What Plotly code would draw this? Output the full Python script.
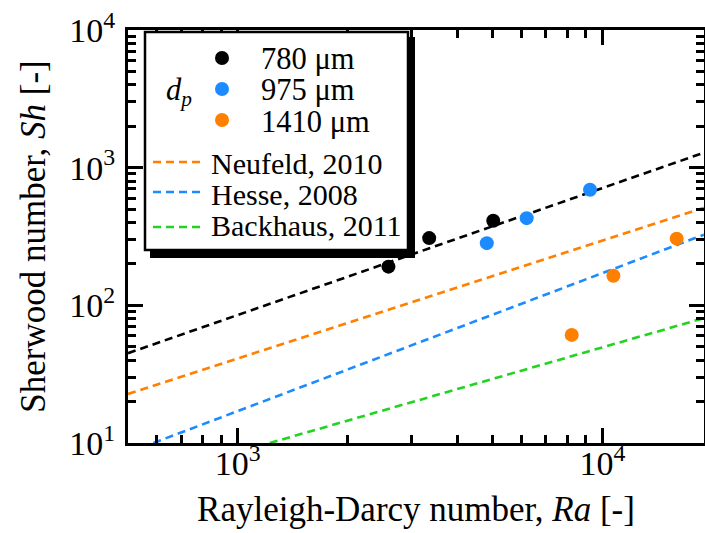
import math
import plotly.graph_objects as go

# ---------------- data ----------------
ra_780 = [2590, 3350, 5020]
sh_780 = [191, 308, 412]
ra_975 = [4820, 6200, 9250]
sh_975 = [283, 430, 692]
ra_1410 = [8240, 10720, 15990]
sh_1410 = [61, 164, 305]

ra_fit_780 = [500, 19000]
sh_fit_780 = [44.9, 1285]
ra_neufeld = [500, 19000]
sh_neufeld = [22.7, 512]
ra_hesse = [587, 19000]
sh_hesse = [10, 326]
ra_backhaus = [1224, 19000]
sh_backhaus = [10, 80.7]

x_major = [1000, 10000]
x_major_text = ["10<sup>3</sup>", "10<sup>4</sup>"]
y_major = [10, 100, 1000, 10000]
y_major_text = ["10<sup>1</sup>", "10<sup>2</sup>", "10<sup>3</sup>", "10<sup>4</sup>"]
x_minor = [500, 600, 700, 800, 900, 2000, 3000, 4000, 5000, 6000, 7000, 8000, 9000]
y_minor = [20, 30, 40, 50, 60, 70, 80, 90, 200, 300, 400, 500, 600, 700, 800, 900,
           2000, 3000, 4000, 5000, 6000, 7000, 8000, 9000]

legend_dp = ["780 μm", "975 μm", "1410 μm"]
legend_lines = ["Neufeld, 2010", "Hesse, 2008", "Backhaus, 2011"]

# ---------------- style ----------------
BLACK = "#000000"
BLUE = "#1C8BFF"
ORANGE = "#FF8000"
GREEN = "#22D322"
FONT = "Liberation Serif"
W, H = 705, 533
L, R, T, B = 128, 1, 30, 90
X_RANGE = [math.log10(500), math.log10(19000)]
Y_RANGE = [1, 4]

def pxx(x):
    return (x - L) / (W - L - R)

def pxy(y):
    return (H - B - y) / (H - T - B)

fig = go.Figure()
DASH = "8px,5px"
for xs, ys, c in [(ra_fit_780, sh_fit_780, BLACK), (ra_neufeld, sh_neufeld, ORANGE),
                  (ra_hesse, sh_hesse, BLUE), (ra_backhaus, sh_backhaus, GREEN)]:
    fig.add_trace(go.Scatter(x=xs, y=ys, mode="lines",
                             line=dict(color=c, width=2.6, dash=DASH),
                             showlegend=False, hoverinfo="skip"))

for xs, ys, c in [(ra_780, sh_780, BLACK), (ra_975, sh_975, BLUE), (ra_1410, sh_1410, ORANGE)]:
    fig.add_trace(go.Scatter(x=xs, y=ys, mode="markers",
                             marker=dict(color=c, size=14, line=dict(width=0)),
                             showlegend=False))

axis_common = dict(
    type="log", showgrid=False, zeroline=False, showline=True, linecolor=BLACK,
    linewidth=3, mirror="ticks", ticks="inside", ticklen=15, tickwidth=2.5,
    tickcolor=BLACK, tickmode="array", tickfont=dict(family=FONT, size=34, color=BLACK),
    automargin=False, ticklabeloverflow="allow",
)

fig.update_xaxes(**axis_common, range=X_RANGE, tickvals=x_major, ticktext=x_major_text,
                 minor=dict(tickmode="array", tickvals=x_minor, ticks="inside",
                            ticklen=8, tickwidth=2.5, tickcolor=BLACK, showgrid=False),
                 ticklabelstandoff=-12,
                 title=dict(text="Rayleigh-Darcy number, <i>Ra</i> [-]",
                            font=dict(family=FONT, size=35, color=BLACK), standoff=16))
fig.update_yaxes(**axis_common, range=Y_RANGE, tickvals=y_major, ticktext=y_major_text,
                 minor=dict(tickmode="array", tickvals=y_minor, ticks="inside",
                            ticklen=8, tickwidth=2.5, tickcolor=BLACK, showgrid=False),
                 ticklabelstandoff=3,
                 title=dict(text="Sherwood number, <i>Sh</i> [-]",
                            font=dict(family=FONT, size=35, color=BLACK), standoff=14))

# ---------------- legend box (drawn) ----------------
shapes = [
    dict(type="rect", xref="paper", yref="paper", layer="above",
         x0=pxx(150), x1=pxx(415), y0=pxy(258), y1=pxy(37),
         fillcolor=BLACK, line=dict(width=0)),
    dict(type="rect", xref="paper", yref="paper", layer="above",
         x0=pxx(145), x1=pxx(408), y0=pxy(250), y1=pxy(32),
         fillcolor="white", line=dict(color=BLACK, width=2.5)),
]
marker_rows = [58, 89, 120]
for c, yy in zip([BLACK, BLUE, ORANGE], marker_rows):
    shapes.append(dict(type="circle", xref="paper", yref="paper", layer="above",
                       x0=pxx(215), x1=pxx(229), y0=pxy(yy + 7), y1=pxy(yy - 7),
                       fillcolor=c, line=dict(width=0)))
line_rows = [162, 192, 227]
for c, yy in zip([ORANGE, BLUE, GREEN], line_rows):
    shapes.append(dict(type="line", xref="paper", yref="paper", layer="above",
                       x0=pxx(153), x1=pxx(202), y0=pxy(yy), y1=pxy(yy),
                       line=dict(color=c, width=2.6, dash=DASH)))

annotations = []
for lbl, yy in zip(legend_dp, [59, 90, 122]):
    annotations.append(dict(text=lbl, xref="paper", yref="paper", x=pxx(259), y=pxy(yy),
                            xanchor="left", yanchor="middle", showarrow=False,
                            font=dict(family=FONT, size=30.5, color=BLACK)))
annotations.append(dict(text="<i>d<sub>p</sub></i>", xref="paper", yref="paper",
                        x=pxx(164), y=pxy(92), xanchor="left", yanchor="middle",
                        showarrow=False, font=dict(family=FONT, size=30.5, color=BLACK)))
for lbl, yy in zip(legend_lines, [163, 194, 225]):
    annotations.append(dict(text=lbl, xref="paper", yref="paper", x=pxx(209), y=pxy(yy),
                            xanchor="left", yanchor="middle", showarrow=False,
                            font=dict(family=FONT, size=30, color=BLACK)))

fig.update_layout(width=W, height=H, margin=dict(l=L, r=R, t=T, b=B),
                  paper_bgcolor="white", plot_bgcolor="white",
                  font=dict(family=FONT, color=BLACK),
                  shapes=shapes, annotations=annotations, showlegend=False)

# remove the browser's default 8px page margin so the figure fills the window
fig.write_html("out.html", config={"displayModeBar": False},
               post_script="document.body.style.margin='0px';"
                           "document.body.style.overflow='hidden';")
